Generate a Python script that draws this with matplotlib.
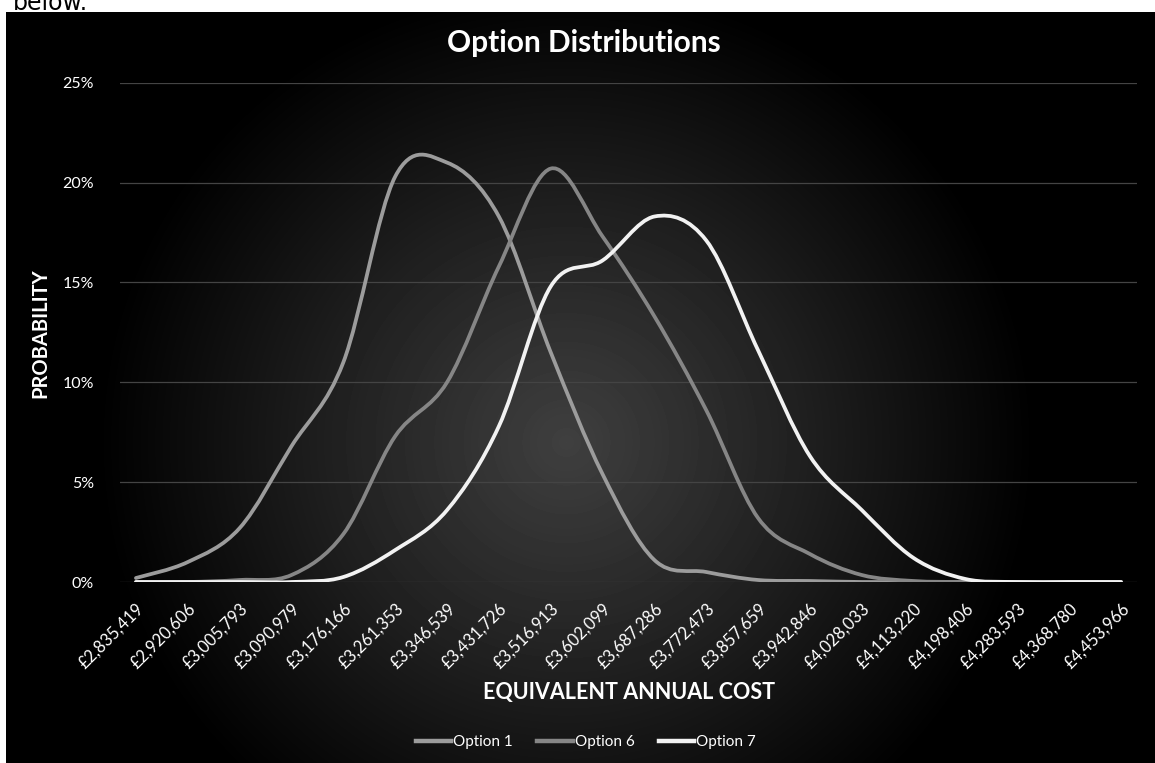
import numpy as np
import matplotlib
matplotlib.use("Agg")
import matplotlib.pyplot as plt
from matplotlib.path import Path
from matplotlib.patches import PathPatch
from matplotlib.lines import Line2D
from matplotlib.ticker import PercentFormatter


COST_LABELS = [
    "£2,835,419", "£2,920,606", "£3,005,793", "£3,090,979", "£3,176,166",
    "£3,261,353", "£3,346,539", "£3,431,726", "£3,516,913", "£3,602,099",
    "£3,687,286", "£3,772,473", "£3,857,659", "£3,942,846", "£4,028,033",
    "£4,113,220", "£4,198,406", "£4,283,593", "£4,368,780", "£4,453,966",
]

# probability (%) per cost bucket
OPTION_1 = [0.2, 1.0, 2.7, 6.8, 11.0, 20.3, 21.0, 18.3, 11.5, 5.4,
            1.1, 0.5, 0.1, 0.05, 0.0, 0.0, 0.0, 0.0, 0.0, 0.0]
OPTION_6 = [0.0, 0.0, 0.1, 0.35, 2.4, 7.3, 10.0, 15.8, 20.7, 17.3,
            13.3, 8.6, 3.2, 1.4, 0.35, 0.05, 0.0, 0.0, 0.0, 0.0]
OPTION_7 = [0.0, 0.0, 0.0, 0.0, 0.25, 1.6, 3.6, 7.8, 14.8, 16.1,
            18.3, 17.1, 11.6, 6.3, 3.6, 1.2, 0.15, 0.0, 0.0, 0.0]

SERIES = [
    ("Option 1", OPTION_1, "#9c9c9c"),
    ("Option 6", OPTION_6, "#868686"),
    ("Option 7", OPTION_7, "#f2f2f2"),
]

FONT = "Lato"
W, H = 1155, 763


def smooth_path(xs, ys):
    # Catmull-Rom style bezier through every point, like a spreadsheet "smoothed line"
    pts = np.column_stack([xs, ys]).astype(float)
    padded = np.vstack([pts[0], pts, pts[-1]])
    verts = [pts[0]]
    codes = [Path.MOVETO]
    for i in range(len(pts) - 1):
        p0, p1, p2, p3 = padded[i], padded[i + 1], padded[i + 2], padded[i + 3]
        verts += [p1 + (p2 - p0) / 6.0, p2 - (p3 - p1) / 6.0, p2]
        codes += [Path.CURVE4] * 3
    return Path(verts, codes)


fig = plt.figure(figsize=(W / 100, H / 100), dpi=100)
fig.patch.set_facecolor("white")

# dark chart area with a soft radial glow in the middle
bg = fig.add_axes([6 / W, 0, 1 - 6 / W, (H - 12) / H])
gx, gy = np.meshgrid(np.arange(W - 6), np.arange(H - 12))
r = np.sqrt(((gx - 560) / 470) ** 2 + ((gy - 430) / 460) ** 2)
glow = 0.25 * np.clip(1 - r, 0, 1) ** 1.0
bg.imshow(glow, cmap="gray", vmin=0, vmax=1, aspect="auto",
          interpolation="bilinear")
bg.set_axis_off()

fig.text(13 / W, 1 - 10 / H, "below.", fontsize=17, family="DejaVu Sans",
         color="black", ha="left", va="baseline")

left, right = 120.4, 1136.6
top, bottom = 82.7, 582.0
ax = fig.add_axes([left / W, 1 - bottom / H, (right - left) / W, (bottom - top) / H])
ax.patch.set_alpha(0)

x = np.arange(len(COST_LABELS))
for name, values, color in SERIES:
    ax.add_patch(PathPatch(smooth_path(x, values), facecolor="none",
                           edgecolor=color, linewidth=2.7,
                           capstyle="round", joinstyle="round", zorder=3))

ax.set_xlim(-0.3, len(COST_LABELS) - 0.7)
ax.set_ylim(0, 25)
ax.set_yticks([0, 5, 10, 15, 20, 25])
ax.yaxis.set_major_formatter(PercentFormatter(100, decimals=0))
ax.grid(axis="y", color="#444444", linewidth=0.9)
ax.set_axisbelow(True)
for s in ax.spines.values():
    s.set_visible(False)

ax.set_xticks(x)
ax.set_xticklabels(COST_LABELS, rotation=45, ha="right", va="top",
                   rotation_mode="anchor", family=FONT, fontsize=12,
                   color="white")
ax.tick_params(axis="x", length=0, pad=13)
ax.tick_params(axis="y", length=0, pad=19, labelcolor="white", labelsize=11.5)
for lab in ax.get_yticklabels():
    lab.set_family(FONT)

fig.text(584 / W, 1 - 43 / H, "Option Distributions", ha="center", va="center",
         family=FONT, fontsize=21.5, fontweight="bold", color="white")
fig.text(629 / W, 1 - 692 / H, "EQUIVALENT ANNUAL COST", ha="center",
         va="center", family=FONT, fontsize=15.5, fontweight="bold",
         color="white")
fig.text(40 / W, 1 - 333 / H, "PROBABILITY", ha="center", va="center",
         rotation=90, family=FONT, fontsize=14.5, fontweight="bold",
         color="white")

handles = [Line2D([], [], color=c, linewidth=3.2) for _, _, c in SERIES]
leg = fig.legend(handles, [n for n, _, _ in SERIES], loc="center",
                 bbox_to_anchor=(586 / W, 1 - 742 / H), ncol=3, frameon=False,
                 handlelength=2.3, handletextpad=0.15, columnspacing=1.6,
                 prop={"family": FONT, "size": 11})
for t in leg.get_texts():
    t.set_color("white")

fig.savefig("out.png", dpi=100, facecolor=fig.get_facecolor())
